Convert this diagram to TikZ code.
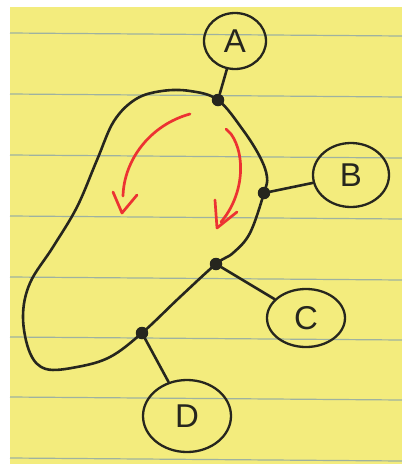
\documentclass[tikz,border=0pt]{standalone}
\usepackage{fontspec}
\setmainfont{Liberation Sans}
\usetikzlibrary{shapes.geometric}
\definecolor{paper}{RGB}{243,236,125}
\definecolor{ruling}{RGB}{158,178,160}
\definecolor{ink}{RGB}{38,38,30}
\definecolor{redink}{RGB}{236,50,50}
\begin{document}
\begin{tikzpicture}[x=1pt,y=-1pt,
  ink line/.style={draw=ink,line width=2.6pt,line cap=round,line join=round},
  bubble/.style={ellipse,draw=ink,line width=2.3pt,inner sep=0pt,
    font=\fontsize{33}{33}\selectfont,text=ink},
  junction/.style={circle,fill=ink,inner sep=0pt,minimum size=12.5pt},
  red arrow/.style={draw=redink,line width=2.7pt,line cap=round,line join=round}]
\useasboundingbox (0,0) rectangle (402,464);
% sheet of ruled yellow paper
\fill[white] (0,0) rectangle (402,464);
\fill[paper] (10,7) rectangle (402,464);
\foreach \y in {33,94,155,216,277,337,397,458}
  \draw[ruling,line width=1.2pt] (10,\y) -- (402,\y+3);

% closed outline
\draw[ink line] plot[smooth cycle,tension=0.6] coordinates {
  (142,333) (110,357) (77,367) (46,369) (30,353) (23,317) (30,283)
  (53,247) (77,207) (97,160) (114,121) (136,99) (162,91) (190,91)
  (218,100) (243,130) (260,157) (267,177) (264,193) (250,233)
  (233,253) (216,264) (180,297)};

% junction points on the outline
\node[junction] (pa) at (218,100) {};
\node[junction] (pb) at (264,193) {};
\node[junction] (pc) at (216,264) {};
\node[junction] (pd) at (142,333) {};

% labelled bubbles
\node[bubble,minimum width=62pt,minimum height=56pt] (A) at (235,41) {A};
\node[bubble,minimum width=76pt,minimum height=64pt] (B) at (351,175) {B};
\node[bubble,minimum width=78pt,minimum height=58pt] (C) at (306,318) {C};
\node[bubble,minimum width=88pt,minimum height=72pt] (D) at (187,416) {D};

% connectors
\draw[ink line] (pa) -- (A);
\draw[ink line] (pb) -- (B);
\draw[ink line] (pc) -- (C);
\draw[ink line] (pd) -- (D);

% red direction arrows
\draw[red arrow] (190,114) .. controls (150,125) and (124,160) .. (123,196);
\draw[red arrow] (113,192) -- (122,213) -- (137,195);
\draw[red arrow] (226,129) -- (231,134)
  .. controls (246,155) and (244,195) .. (221,222);
\draw[red arrow] (215,200) -- (217,228) -- (237,212);
\end{tikzpicture}
\end{document}
